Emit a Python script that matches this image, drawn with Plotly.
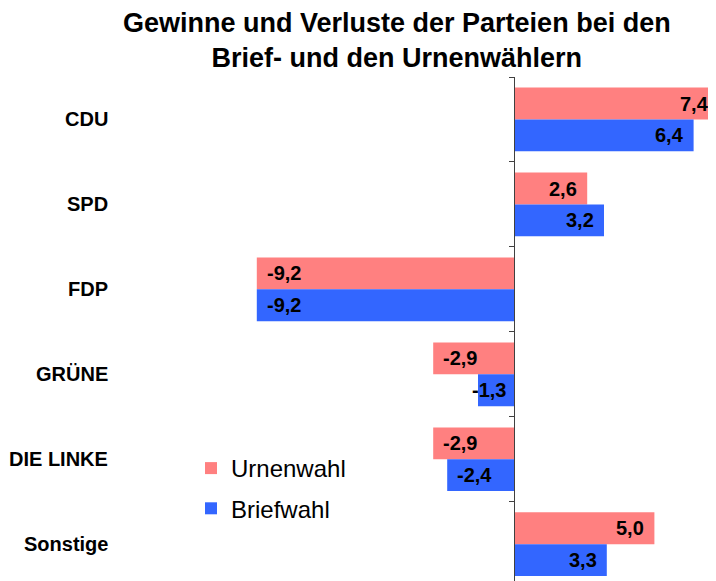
import plotly.graph_objects as go

categories = ["CDU", "SPD", "FDP", "GRÜNE", "DIE LINKE", "Sonstige"]
urnenwahl = [7.4, 2.6, -9.2, -2.9, -2.9, 5.0]
briefwahl = [6.4, 3.2, -9.2, -1.3, -2.4, 3.3]
series_names = ["Urnenwahl", "Briefwahl"]
colors = ["#FF8080", "#3366FF"]
title_text = "Gewinne und Verluste der Parteien bei den<br>Brief- und den Urnenwählern"

# the page adds an 8px body margin, so the figure is 8px smaller than the window
W, H = 708, 573
ML, MR, MT, MB = 232, 0, 69, 0
PW, PH = W - ML - MR, H - MT - MB
x0, x1 = -9.8, 7.2
BARGAP = 0.25
FONT = "Liberation Sans, Arial, sans-serif"
PXU = PW / (x1 - x0)  # pixels per unit on the value axis


def fmt(v):
    return f"{v:.1f}".replace(".", ",")


def px_x(fx):
    return (fx - ML) / PW


def px_y(fy):
    return 1 - (fy - MT) / PH


fig = go.Figure()
for name, vals, col in zip(series_names, [urnenwahl, briefwahl], colors):
    fig.add_trace(go.Bar(
        y=categories, x=vals, name=name, orientation="h",
        marker=dict(color=col, line=dict(width=0)),
        legendgroup=name, hoverinfo="x+name",
    ))

# value labels, inside the bar end (bars are clipped at the axis range)
bw = (1 - BARGAP) / len(series_names)
for k, vals in enumerate([urnenwahl, briefwahl]):
    off = -(1 - BARGAP) / 2 + bw * (k + 0.5)
    for i, v in enumerate(vals):
        end = min(max(v, x0), x1)
        clipped = end != v
        pad = 5 if clipped else 8
        if abs(v) * PXU < 42:  # label wider than the bar: align to the base
            xa, ax, sh = ("left", 0, 6) if v > 0 else ("right", 0, -6)
        elif v >= 0:
            xa, ax, sh = "right", end, -pad
        else:
            xa, ax, sh = "left", end, pad
        fig.add_annotation(x=ax, y=i + off, xref="x", yref="y", text=fmt(v),
                           xanchor=xa, yanchor="middle", xshift=sh,
                           showarrow=False,
                           font=dict(family=FONT, size=20, color="black",
                                     weight="bold"))

fig.update_layout(
    width=W, height=H,
    margin=dict(l=ML, r=MR, t=MT, b=MB, pad=0),
    paper_bgcolor="white", plot_bgcolor="white",
    barmode="group", bargap=BARGAP, bargroupgap=0,
    font=dict(family=FONT, color="black"),
    xaxis=dict(range=[x0, x1], visible=False, fixedrange=True),
    yaxis=dict(type="category", categoryorder="array", categoryarray=categories,
               range=[5.433, -0.5], anchor="free", position=(0 - x0) / (x1 - x0),
               showline=True, linecolor="#404040", linewidth=1,
               ticks="outside", tickson="boundaries", ticklen=5,
               tickcolor="#404040", showticklabels=False, showgrid=False,
               zeroline=False, fixedrange=True),
    legend=dict(x=px_x(183), y=px_y(438), xanchor="left", yanchor="top",
                font=dict(family=FONT, size=24, color="black"),
                traceorder="grouped", tracegroupgap=6, bgcolor="rgba(0,0,0,0)",
                itemwidth=30),
    showlegend=True,
)

fig.add_annotation(x=px_x(389), y=px_y(32.5), xref="paper", yref="paper",
                   xanchor="center", yanchor="middle", text=title_text,
                   showarrow=False, align="center",
                   font=dict(family=FONT, size=27, color="black", weight="bold"))

for c in categories:
    fig.add_annotation(x=px_x(102), xref="paper", xanchor="right", y=c, yref="y",
                       text=c, showarrow=False,
                       font=dict(family=FONT, size=20, color="black", weight="bold"))

fig.write_html("out.html")
